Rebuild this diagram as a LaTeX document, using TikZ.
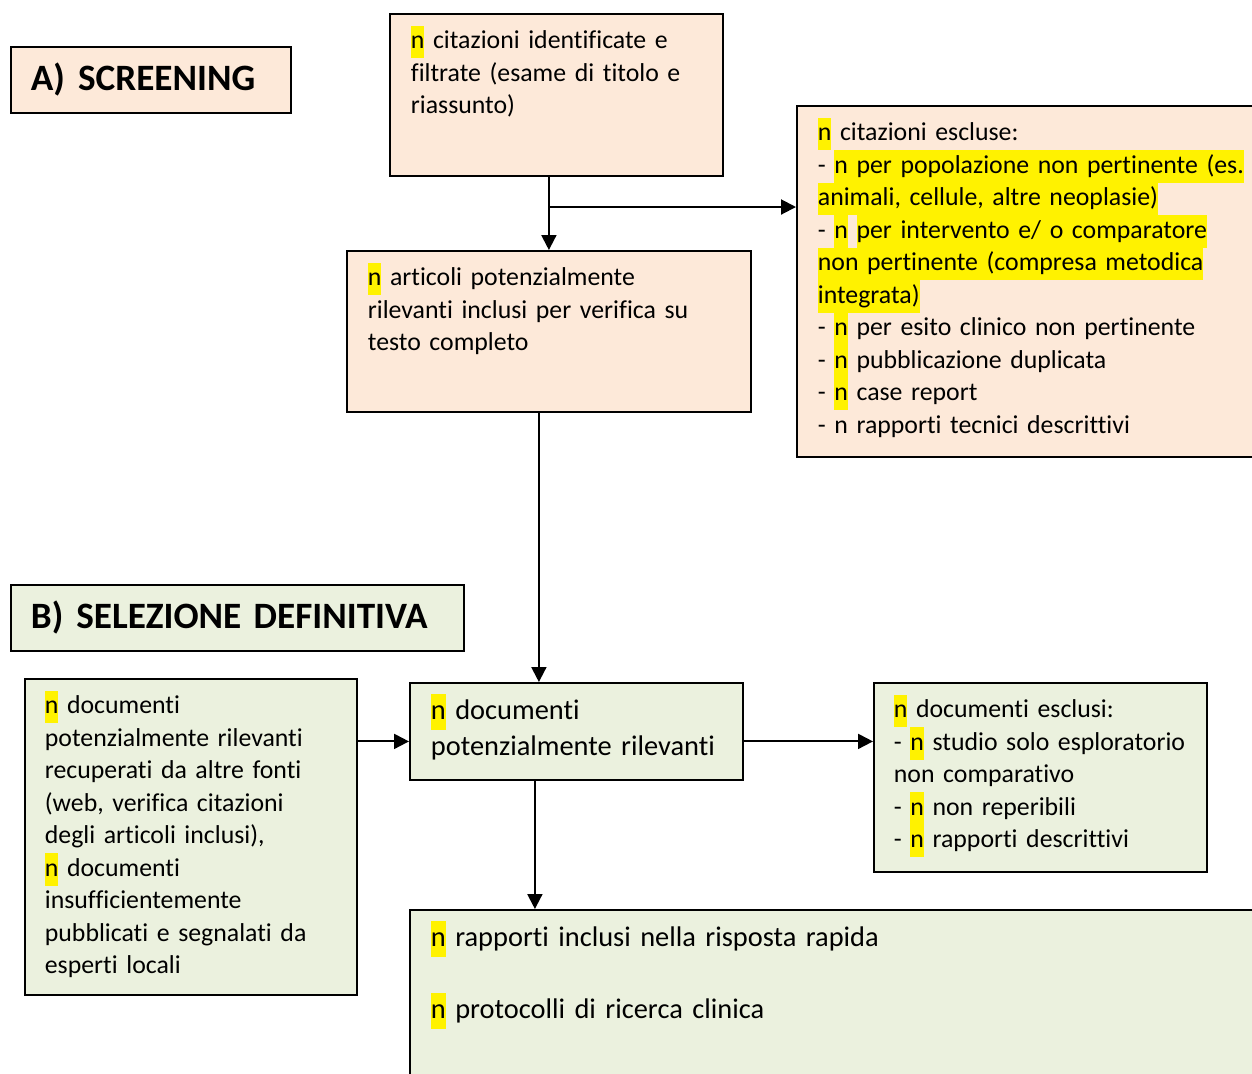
\documentclass[tikz,border=0pt]{standalone}
\usepackage{fontspec}
\setmainfont{Carlito}[Ligatures=NoCommon]
\usetikzlibrary{positioning}
\usetikzlibrary{arrows.meta}

\definecolor{peach}{HTML}{FDE9D9}
\definecolor{sage}{HTML}{EBF1DE}
\newcommand{\hl}[1]{{\setlength{\fboxsep}{0pt}\colorbox{yellow}{\strut #1}}}
\hyphenpenalty=10000
\exhyphenpenalty=10000

\begin{document}
\begin{tikzpicture}[
  x=0.5pt, y=-0.5pt,
  box/.style = {draw=black, line width=0.9pt, anchor=north west, align=left,
                inner xsep=10.5pt, inner ysep=6pt, text height=11.4pt,
                font=\fontsize{12.9}{16.25}\selectfont},
  bigbox/.style = {box, inner ysep=5.5pt, text height=12.6pt,
                font=\fontsize{14.2}{18}\selectfont},
  title/.style = {draw=black, line width=0.9pt, anchor=north west, align=left,
                inner xsep=10pt, minimum height=33pt,
                font=\fontsize{18.6}{22}\selectfont\bfseries},
  line/.style = {line width=1pt},
  >={Triangle[length=7.5pt,width=7.5pt]}
]
  \useasboundingbox (0,0) rectangle (1252,1073);

  % A) screening
  \node[title, fill=peach, text width=120pt] (scrA) at (10,46) {A)\hspace{6.5pt}SCREENING};

  \node[box, fill=peach, text width=145.5pt, text depth=57.6pt] (ident) at (389,13)
    {\hl{n} citazioni identificate e\\
     filtrate (esame di titolo e\\
     riassunto)};

  \node[box, fill=peach, text width=222.5pt, text depth=152.1pt] (excl) at (796,105)
    {\hl{n} citazioni escluse:\\
     - \hl{n per popolazione non pertinente (es.}\\
     \hl{animali, cellule, altre neoplasie)}\\
     - \hl{n} \hl{per intervento e/ o comparatore}\\
     \hl{non pertinente (compresa metodica}\\
     \hl{integrata)}\\
     - \hl{n} per esito clinico non pertinente\\
     - \hl{n} pubblicazione duplicata\\
     - \hl{n} case report\\
     - n rapporti tecnici descrittivi};

  \node[box, fill=peach, text width=181pt, text depth=57.1pt] (artic) at (346,250)
    {\hl{n} articoli potenzialmente\\
     rilevanti inclusi per verifica su\\
     testo completo};

  % B) selezione definitiva
  \node[title, fill=sage, text width=206.5pt] (scrB) at (10,584) {B)\hspace{6.5pt}SELEZIONE DEFINITIVA};

  \node[box, fill=sage, inner xsep=10pt, text width=146pt, text depth=134.6pt] (altre) at (24,678)
    {\hl{n} documenti\\
     potenzialmente rilevanti\\
     recuperati da altre fonti\\
     (web, verifica citazioni\\
     degli articoli inclusi),\\
     \hl{n} documenti\\
     insufficientemente\\
     pubblicati e segnalati da\\
     esperti locali};

  \node[bigbox, fill=sage, text width=145.5pt, text depth=24.9pt] (pot) at (409,682)
    {\hl{n} documenti\\
     potenzialmente rilevanti};

  \node[box, fill=sage, inner xsep=10pt, text width=146.5pt, text depth=71.1pt] (escl) at (873,682)
    {\hl{n} documenti esclusi:\\
     - \hl{n} studio solo esploratorio\\
     non comparativo\\
     - \hl{n} non reperibili\\
     - \hl{n} rapporti descrittivi};

  \node[bigbox, fill=sage, text width=410.5pt, text depth=63.4pt] (incl) at (409,909)
    {\hl{n} rapporti inclusi nella risposta rapida\\[18pt]
     \hl{n} protocolli di ricerca clinica};

  % connectors
  \coordinate (fork) at (548,207);
  \draw[line,->] (ident.south -| artic.north) -- (artic.north);
  \draw[line,->] (fork) -- (fork -| excl.west);
  \draw[line,->] ([xshift=-5pt]artic.south) -- ([xshift=-5pt]artic.south |- pot.north);
  \draw[line,->] ([yshift=-5pt]pot.west -| altre.east) -- ([yshift=-5pt]pot.west);
  \draw[line,->] ([yshift=-5pt]pot.east) -- ([yshift=-5pt]pot.east -| escl.west);
  \draw[line,->] ([xshift=-20.75pt]pot.south) -- ([xshift=-20.75pt]pot.south |- incl.north);

\end{tikzpicture}
\end{document}
